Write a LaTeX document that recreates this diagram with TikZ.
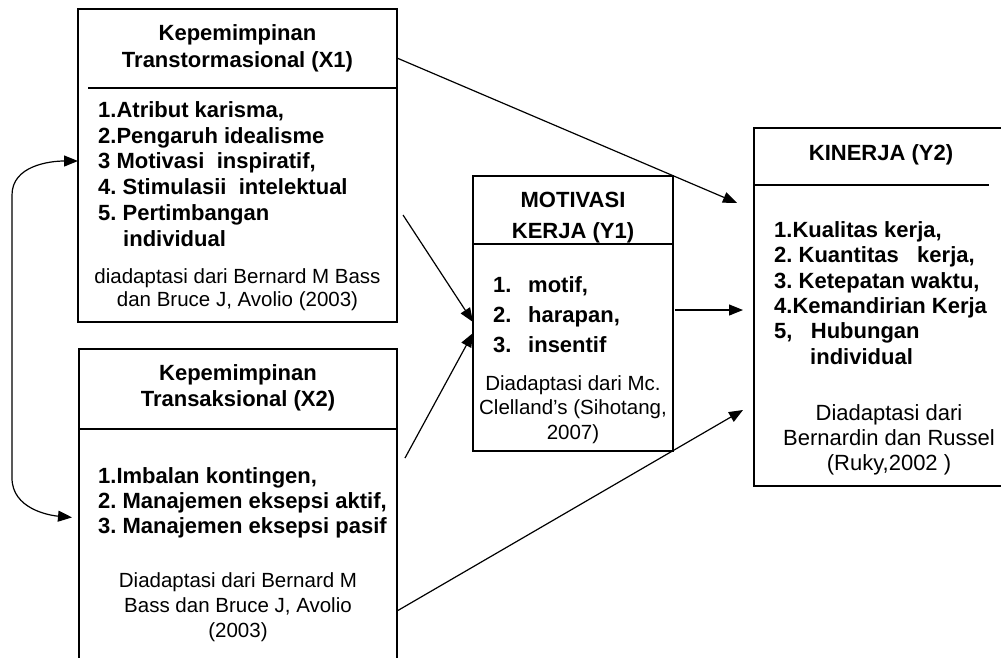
\documentclass[tikz,border=0pt]{standalone}
\usepackage{fontspec}
\setmainfont{Liberation Sans}
\usetikzlibrary{arrows.meta}

\newcommand\hdfont{\fontsize{22}{26}\selectfont\bfseries}
\newcommand\itmfont{\fontsize{22}{26}\selectfont\bfseries}
\newcommand\srcfont{\fontsize{20.5}{24}\selectfont}
\newcommand\srcbigfont{\fontsize{22}{26}\selectfont}

\tikzset{
    box/.style={draw, line width=1.6pt, inner sep=0pt, outer sep=0pt},
    rule/.style={line width=1.6pt},
    arr/.style={line width=1.2pt, -{Triangle[length=14pt,width=11pt]}},
    head/.style={anchor=base, inner sep=0pt, font=\hdfont},
    item/.style={anchor=base west, inner sep=0pt, font=\itmfont},
    src/.style={anchor=base, inner sep=0pt, font=\srcfont}
}

\begin{document}
\frenchspacing
\begin{tikzpicture}[x=1pt, y=-1pt]
    \useasboundingbox (0,0) rectangle (1001,657);

    \node[box, minimum width=319pt, minimum height=313pt] (x1) at (237.5,165.5) {};
    \node[box, minimum width=318pt, minimum height=351pt] (x2) at (238,524.5) {};
    \node[box, minimum width=200pt, minimum height=275pt] (y1) at (573,313.5) {};
    \node[box, minimum width=254pt, minimum height=358pt] (y2) at (881,307) {};

    \draw[rule] (x1.east |- 0,88) -- ++(-309,0);
    \draw[rule] (x2.west |- 0,429) -- (x2.east |- 0,429);
    \draw[rule] (y1.west |- 0,244) -- (y1.east |- 0,244);
    \draw[rule] (y2.west |- 0,185) -- ++(235,0);

    % X1
    \node[head] (x1h1) at (237.5,40) {Kepemimpinan};
    \node[head] (x1h2) at (237.5,67) {Transtormasional (X1)};
    \node[item] (x1i1) at (98,117) {1.Atribut karisma,};
    \node[item] (x1i2) at (98,143) {2.Pengaruh idealisme};
    \node[item] (x1i3) at (98,168) {3 Motivasi\ \ inspiratif,};
    \node[item] (x1i4) at (98,194) {4. Stimulasii\ \ intelektual};
    \node[item] (x1i5) at (98,220) {5. Pertimbangan};
    \node[item] (x1i6) at (123,246) {individual};
    \node[src] (x1s1) at (237.5,283) {diadaptasi dari Bernard M Bass};
    \node[src] (x1s2) at (237.5,306) {dan Bruce J, Avolio (2003)};

    % X2
    \node[head] (x2h1) at (238,380) {Kepemimpinan};
    \node[head] (x2h2) at (238,406) {Transaksional (X2)};
    \node[item] (x2i1) at (98,483) {1.Imbalan kontingen,};
    \node[item] (x2i2) at (98,508) {2. Manajemen eksepsi aktif,};
    \node[item] (x2i3) at (98,533) {3. Manajemen eksepsi pasif};
    \node[src] (x2s1) at (238,587) {Diadaptasi dari Bernard M};
    \node[src] (x2s2) at (238,612) {Bass dan Bruce J, Avolio};
    \node[src] (x2s3) at (238,637) {(2003)};

    % Y1
    \node[head] (y1h1) at (573,207) {MOTIVASI};
    \node[head] (y1h2) at (573,238) {KERJA (Y1)};
    \node[item] (y1n1) at (493,292) {1.};
    \node[item] (y1n2) at (493,322) {2.};
    \node[item] (y1n3) at (493,352) {3.};
    \node[item] (y1i1) at (528,292) {motif,};
    \node[item] (y1i2) at (528,322) {harapan,};
    \node[item] (y1i3) at (528,352) {insentif};
    \node[src] (y1s1) at (573,390) {Diadaptasi dari Mc.};
    \node[src] (y1s2) at (573,414.5) {Clelland’s (Sihotang,};
    \node[src] (y1s3) at (573,439) {2007)};

    % Y2
    \node[head] (y2h1) at (881,160) {KINERJA (Y2)};
    \node[item] (y2i1) at (774,237) {1.Kualitas kerja,};
    \node[item] (y2i2) at (774,262) {2. Kuantitas\ \ \ kerja,};
    \node[item] (y2i3) at (774,288) {3. Ketepatan waktu,};
    \node[item] (y2i4) at (774,313) {4.Kemandirian Kerja};
    \node[item] (y2i5) at (774,338) {5,\ \ \ Hubungan};
    \node[item] (y2i6) at (810,364) {individual};
    \node[src, font=\srcbigfont] (y2s1) at (889,420) {Diadaptasi dari};
    \node[src, font=\srcbigfont] (y2s2) at (889,445) {Bernardin dan Russel};
    \node[src, font=\srcbigfont] (y2s3) at (889,470) {(Ruky,2002 )};

    \draw[arr, shorten >=18.5pt] (x1.east |- 0,58) -- (y2.west |- 0,210.2);
    \draw[arr, shorten <=11pt] (x1.east |- 0,205.8) -- (y1.west |- 0,322);
    \draw[arr, shorten <=16.7pt] (x2.east |- 0,472.7) -- (y1.west |- 0,333);
    \draw[arr, shorten <=2pt, shorten >=11pt] (y1.east |- 0,310) -- (y2.west |- 0,310);
    \draw[arr, shorten >=12.7pt] (x2.east |- 0,611) -- (y2.west |- 0,403.6);

    \draw[line width=1.2pt, {Triangle[length=14pt,width=11pt]}-{Triangle[length=14pt,width=11pt]}, shorten >=7pt]
        (x1.west |- 0,161) to[out=180, in=90] (12,195) -- (12,478)
        to[out=-90, in=175] (x2.west |- 0,518);
\end{tikzpicture}
\end{document}
